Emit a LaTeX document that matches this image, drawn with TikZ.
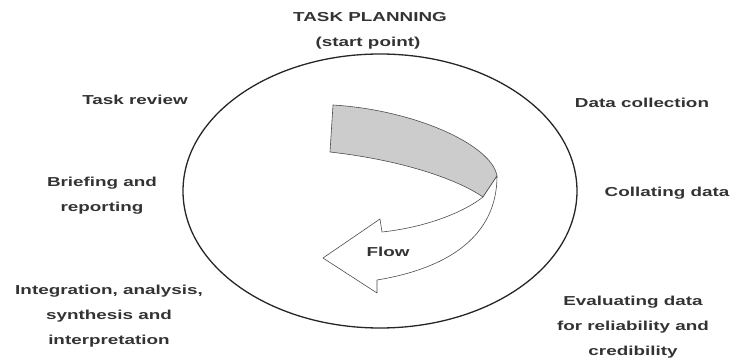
\documentclass[tikz,border=0pt]{standalone}
\usepackage{fontspec}
\setmainfont{Liberation Sans}[FakeStretch=1.45]
\begin{document}
\begin{tikzpicture}[x=1pt, y=-1pt,
    stage/.style = {font=\fontsize{13}{25}\selectfont\bfseries, text=black!80, align=center, inner sep=0pt},
    ribbon/.style = {draw=black!70, line width=0.6pt, line join=round}]
    \useasboundingbox (0,0) rectangle (732,358);
    % the cycle
    \draw[line width=1.3pt, black!85] (380,191) ellipse [x radius=197, y radius=137];
    % flow ribbon
    \coordinate (A) at (333,105);
    \coordinate (B) at (330,152);
    \coordinate (D) at (483,197);
    \coordinate (E) at (497,176);
    \coordinate (F) at (377,280);
    \coordinate (G) at (382,232);
    \coordinate (top barb) at (380,219);
    \coordinate (tip) at (323,258);
    \coordinate (bot barb) at (377,293);
    \filldraw[ribbon, fill=black!20] (A) -- (B) .. controls (400,160) and (455,178) .. (D)
        -- (E) .. controls (492,145) and (415,110) .. cycle;
    \filldraw[ribbon, fill=white] (E) .. controls (497,235) and (450,268) .. (F)
        -- (bot barb) -- (tip) -- (top barb) -- (G)
        .. controls (420,228) and (460,215) .. (D) -- cycle;
    \node[stage] (flow) at (388,252) {Flow};
    % stages
    \node[stage] (plan) at (370,17) {TASK PLANNING};
    \node[stage] (start) at (368,43) {(start point)};
    \node[stage] (collect) at (642,103) {Data collection};
    \node[stage] (collate) at (667,193) {Collating data};
    \node[stage] (evaluate) at (633,327) {Evaluating data\\for reliability and\\credibility};
    \node[stage] (integrate) at (109,316) {Integration, analysis,\\synthesis and\\interpretation};
    \node[stage] (brief) at (102,196) {Briefing and\\reporting};
    \node[stage] (review) at (135,100) {Task review};
\end{tikzpicture}
\end{document}
